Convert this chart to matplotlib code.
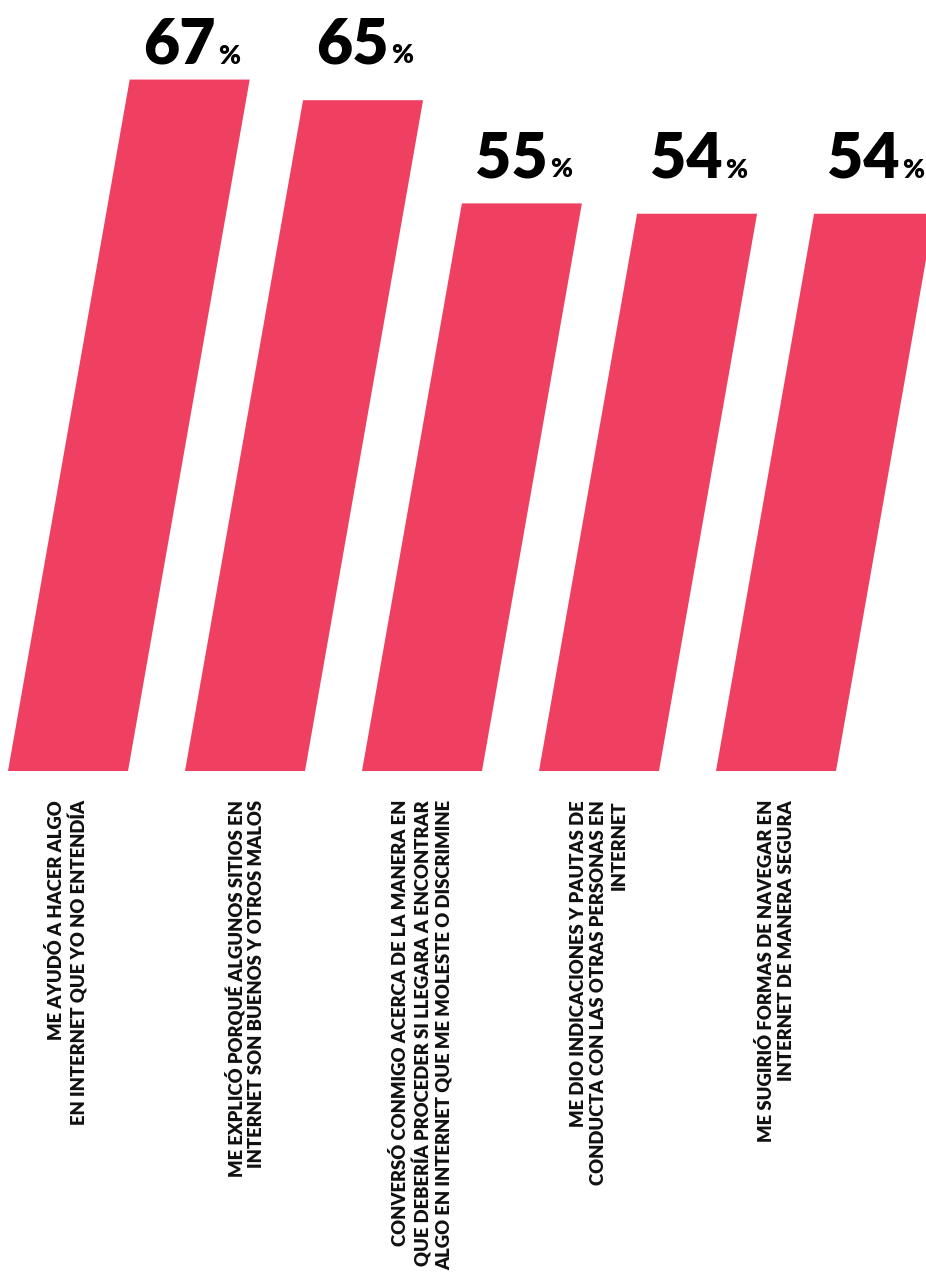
import numpy as np
import matplotlib.pyplot as plt
from matplotlib.patches import Polygon

plt.rcParams['font.family'] = ['Lato', 'DejaVu Sans']

# data
labels = [
    "ME AYUDÓ A HACER ALGO\nEN INTERNET QUE YO NO ENTENDÍA",
    "ME EXPLICÓ PORQUÉ ALGUNOS SITIOS EN\nINTERNET SON BUENOS Y OTROS MALOS",
    "CONVERSÓ CONMIGO ACERCA DE LA MANERA EN\nQUE DEBERÍA PROCEDER SI LLEGARA A ENCONTRAR\nALGO EN INTERNET QUE ME MOLESTE O DISCRIMINE",
    "ME DIO INDICACIONES Y PAUTAS DE\nCONDUCTA CON LAS OTRAS PERSONAS EN\nINTERNET",
    "ME SUGIRIÓ FORMAS DE NAVEGAR EN\nINTERNET DE MANERA SEGURA",
]
values = [67, 65, 55, 54, 54]

bar_color = '#EF4062'
W, H = 926, 1277
fig = plt.figure(figsize=(W / 100, H / 100), dpi=100)

# axes: y=0 at pixel 771 from top, full width
base_px = 771
ax = fig.add_axes([0, (H - base_px) / H, 1, base_px / H])
step = 177.0      # px between bars
x0 = 68.0         # px center of first bar at base
ax.set_xlim(-x0 / step, (W - x0) / step)
px_per_pct = 10.32
ax.set_ylim(0, base_px / px_per_pct)
ax.axis('off')

w = 120 / step                       # bar width (data units)
slant = 0.176 * px_per_pct / step    # x shift per percent

lift = [16, 37, 26, 36, 36]  # px between bar top and number baseline

for i, (v, lab) in enumerate(zip(values, labels)):
    verts = [(i - w / 2, 0), (i + w / 2, 0),
             (i + w / 2 + slant * v, v), (i - w / 2 + slant * v, v)]
    ax.add_patch(Polygon(verts, closed=True, fc=bar_color, ec='none'))

    tx = i + slant * v
    ax.annotate(f"{v}", xy=(tx, v), xytext=(26 * 0.72, lift[i] * 0.72),
                textcoords='offset points', ha='right', va='baseline',
                fontsize=45, fontweight='heavy', color='black',
                annotation_clip=False)
    ax.annotate("%", xy=(tx, v), xytext=(28 * 0.72, lift[i] * 0.72),
                textcoords='offset points', ha='left', va='baseline',
                fontsize=19, fontweight='heavy', color='black',
                annotation_clip=False)

    ax.annotate(lab, xy=(i, 0), xytext=(0, -29 * 0.72),
                textcoords='offset points', ha='center', va='top',
                rotation=90, multialignment='right', linespacing=1.22,
                fontsize=13.3, fontweight='heavy', color='#111111',
                annotation_clip=False)

fig.savefig('out.png', dpi=100)
